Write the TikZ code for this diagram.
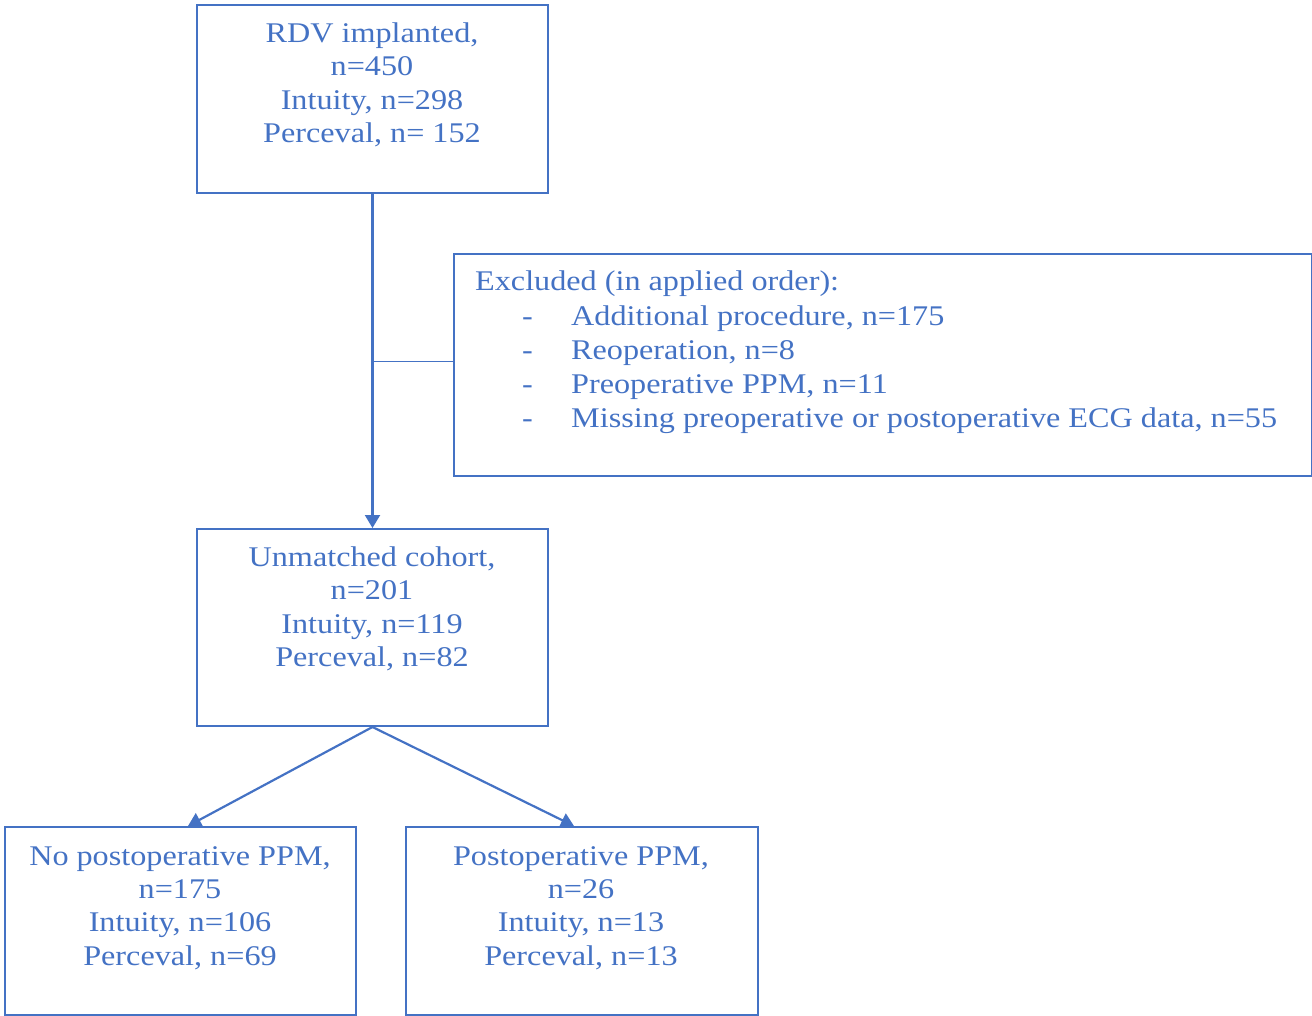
\documentclass[tikz,border=0pt]{standalone}
\usepackage{fontspec}
\setmainfont[FakeStretch=1.13]{Liberation Serif}
\usetikzlibrary{arrows.meta}
\definecolor{obl}{HTML}{4472C4}
\begin{document}
\begin{tikzpicture}[x=1pt,y=-1pt,
  boxnode/.style={draw=obl,line width=2pt,inner sep=0pt,anchor=north west},
  txt/.style={text=obl,inner sep=0pt,font=\fontsize{28.5}{33.4}\selectfont},
  conn/.style={draw=obl,line width=2.2pt,-{Triangle[length=13pt,width=15pt]}}]
\useasboundingbox (0,0) rectangle (1312,1016);
% boxes
\node[boxnode,minimum width=351pt,minimum height=188pt] (b1) at (196,4) {};
\node[boxnode,minimum width=858pt,minimum height=222pt] (bx) at (453,253) {};
\node[boxnode,minimum width=351pt,minimum height=197pt] (b2) at (196,528) {};
\node[boxnode,minimum width=351pt,minimum height=188pt] (b3) at (4,826) {};
\node[boxnode,minimum width=352pt,minimum height=188pt] (b4) at (405,826) {};
% texts
\node[txt,align=center] (t1) at (372,85) {RDV implanted,\\n=450\\Intuity, n=298\\Perceval, n= 152};
\node[txt,align=left,anchor=west,font=\fontsize{28.5}{34.2}\selectfont] (tx) at (475,352.5) {Excluded (in applied order):\\
\hspace*{47pt}\makebox[49pt][l]{-}Additional procedure, n=175\\
\hspace*{47pt}\makebox[49pt][l]{-}Reoperation, n=8\\
\hspace*{47pt}\makebox[49pt][l]{-}Preoperative PPM, n=11\\
\hspace*{47pt}\makebox[49pt][l]{-}Missing preoperative or postoperative ECG data, n=55};
\node[txt,align=center] (t2) at (372,609) {Unmatched cohort,\\n=201\\Intuity, n=119\\Perceval, n=82};
\node[txt,align=center] (t3) at (180,908) {No postoperative PPM,\\n=175\\Intuity, n=106\\Perceval, n=69};
\node[txt,align=center] (t4) at (581,908) {Postoperative PPM,\\n=26\\Intuity, n=13\\Perceval, n=13};
% connectors
\draw[conn] (b1.south) -- (b2.north);
\coordinate (j) at (372,361);
\draw[draw=obl,line width=1pt] (j) -- (bx.west |- j);
\draw[conn] (b2.south) -- ([xshift=7.5pt]b3.north);
\draw[conn] (b2.south) -- ([xshift=-8pt]b4.north);
\end{tikzpicture}
\end{document}
